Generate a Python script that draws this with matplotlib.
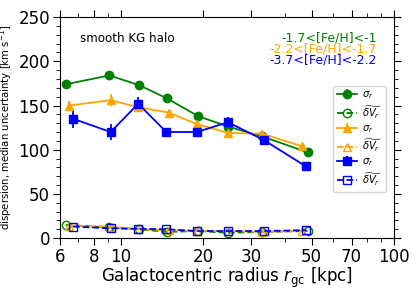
import numpy as np
import matplotlib
matplotlib.use('Agg')
import matplotlib.pyplot as plt
from matplotlib.ticker import FixedLocator, NullFormatter, MultipleLocator

# mean radius of each bin [kpc]
r_green = [6.3, 9.1, 11.7, 14.8, 19.2, 24.8, 33.0, 48.3]
r_orange = [6.5, 9.2, 11.6, 15.0, 19.0, 24.7, 33.0, 46.0]
r_blue = [6.7, 9.2, 11.6, 14.7, 19.0, 24.7, 33.4, 47.7]

# dispersion sigma_r
sig_green = [174, 184, 173, 158, 138, 126, 115, 97]
sig_green_err = [3, 3, 3, 3, 3, 3, 3, 3]
sig_orange = [150, 156, 148, 142, 129, 119, 118, 104]
sig_orange_err = [5, 7, 4, 3, 3, 3, 3, 3]
sig_blue = [135, 120, 152, 120, 120, 131, 111, 81]
sig_blue_err = [11, 9, 8, 4, 4, 6, 4, 3]

# median uncertainty
dv_green = [15, 12, 10, 7, 8, 6, 7, 8]
dv_orange = [14, 13, 10, 9, 8, 8, 7, 8]
dv_blue = [13, 11, 10.5, 10, 8, 8, 8, 9]

xticks = [6, 8, 10, 20, 30, 50, 70, 100]

fig = plt.figure(figsize=(4.16, 2.9), dpi=100)
ax = fig.add_axes([0.144, 0.179, 0.803, 0.762])

handles = []
h = ax.errorbar(r_green, sig_green, yerr=sig_green_err, color='green', marker='o', ms=6, lw=1.3, label=r'$\sigma_r$')
handles.append(h)
h, = ax.plot(r_green, dv_green, color='green', marker='o', mfc='none', ms=6, ls='--', lw=1.3, label=r'$\widetilde{\delta V_r}$')
handles.append(h)
h = ax.errorbar(r_orange, sig_orange, yerr=sig_orange_err, color='orange', marker='^', ms=6, lw=1.3, label=r'$\sigma_r$')
handles.append(h)
h, = ax.plot(r_orange, dv_orange, color='orange', marker='^', mfc='none', ms=6, ls='--', lw=1.3, label=r'$\widetilde{\delta V_r}$')
handles.append(h)
h = ax.errorbar(r_blue, sig_blue, yerr=sig_blue_err, color='blue', marker='s', ms=6, lw=1.3, label=r'$\sigma_r$')
handles.append(h)
h, = ax.plot(r_blue, dv_blue, color='blue', marker='s', mfc='none', ms=6, ls='--', lw=1.3, label=r'$\widetilde{\delta V_r}$')
handles.append(h)

ax.set_xscale('log')
ax.set_xlim(6, 100)
ax.set_ylim(0, 250)
ax.xaxis.set_major_locator(FixedLocator(xticks))
ax.set_xticklabels([str(t) for t in xticks])
ax.xaxis.set_minor_formatter(NullFormatter())
ax.yaxis.set_major_locator(MultipleLocator(50))
ax.yaxis.set_minor_locator(MultipleLocator(10))
ax.tick_params(which='both', top=True, right=True, labelsize=12, pad=2)
ax.tick_params(which='major', length=5)
ax.tick_params(which='minor', length=3)

ax.set_xlabel(r'Galactocentric radius $r_{\rm gc}$ [kpc]', fontsize=12, labelpad=0)
ax.set_ylabel(r'dispersion, median uncertainty [km s$^{-1}$]', fontsize=7.3, labelpad=3)

ax.text(0.06, 0.905, 'smooth KG halo', transform=ax.transAxes, fontsize=8.6, va='center')
ax.text(0.95, 0.905, '-1.7<[Fe/H]<-1', transform=ax.transAxes, fontsize=9, color='green', ha='right', va='center')
ax.text(0.95, 0.855, '-2.2<[Fe/H]<-1.7', transform=ax.transAxes, fontsize=9, color='orange', ha='right', va='center')
ax.text(0.95, 0.805, '-3.7<[Fe/H]<-2.2', transform=ax.transAxes, fontsize=9, color='blue', ha='right', va='center')

ax.legend(handles=handles, loc='center right', bbox_to_anchor=(0.99, 0.45), fontsize=7.2,
          handlelength=2.0, labelspacing=0.25, borderpad=0.4, handletextpad=0.5)

fig.savefig('out.png', dpi=100)
